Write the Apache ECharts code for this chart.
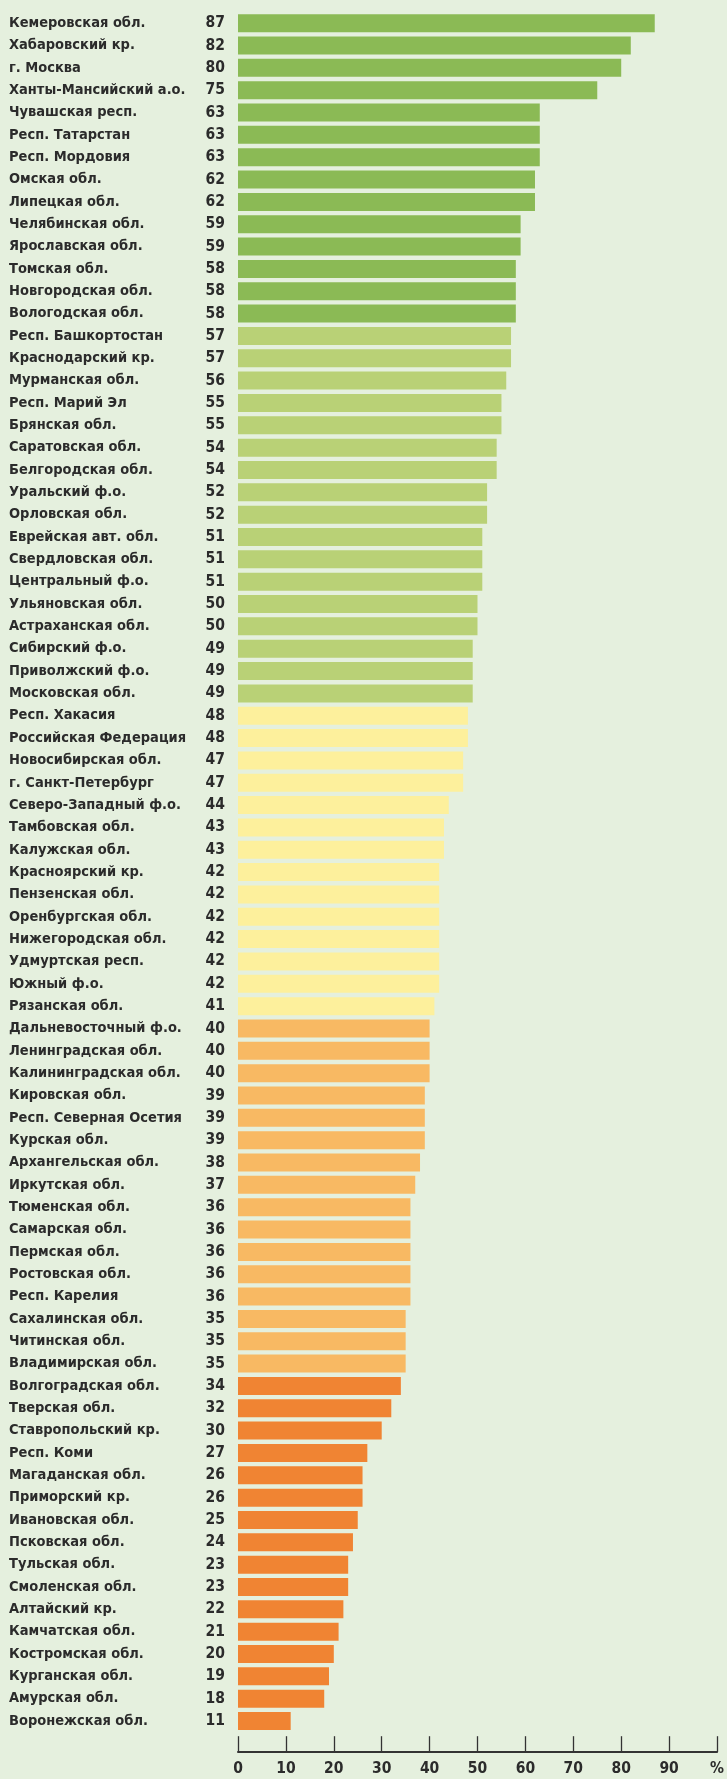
<!DOCTYPE html>
<html><head><meta charset="utf-8">
<script src="https://cdn.jsdelivr.net/npm/echarts@6/dist/echarts.min.js"></script>
<style>html,body{margin:0;padding:0;background:#e5f0de}#c{width:727px;height:1779px}</style>
</head><body><div id="c"></div>
<script>
const regions = ["Кемеровская обл.","Хабаровский кр.","г. Москва","Ханты-Мансийский а.о.","Чувашская респ.","Респ. Татарстан","Респ. Мордовия","Омская обл.","Липецкая обл.","Челябинская обл.","Ярославская обл.","Томская обл.","Новгородская обл.","Вологодская обл.","Респ. Башкортостан","Краснодарский кр.","Мурманская обл.","Респ. Марий Эл","Брянская обл.","Саратовская обл.","Белгородская обл.","Уральский ф.о.","Орловская обл.","Еврейская авт. обл.","Свердловская обл.","Центральный ф.о.","Ульяновская обл.","Астраханская обл.","Сибирский ф.о.","Приволжский ф.о.","Московская обл.","Респ. Хакасия","Российская Федерация","Новосибирская обл.","г. Санкт-Петербург","Северо-Западный ф.о.","Тамбовская обл.","Калужская обл.","Красноярский кр.","Пензенская обл.","Оренбургская обл.","Нижегородская обл.","Удмуртская респ.","Южный ф.о.","Рязанская обл.","Дальневосточный ф.о.","Ленинградская обл.","Калининградская обл.","Кировская обл.","Респ. Северная Осетия","Курская обл.","Архангельская обл.","Иркутская обл.","Тюменская обл.","Самарская обл.","Пермская обл.","Ростовская обл.","Респ. Карелия","Сахалинская обл.","Читинская обл.","Владимирская обл.","Волгоградская обл.","Тверская обл.","Ставропольский кр.","Респ. Коми","Магаданская обл.","Приморский кр.","Ивановская обл.","Псковская обл.","Тульская обл.","Смоленская обл.","Алтайский кр.","Камчатская обл.","Костромская обл.","Курганская обл.","Амурская обл.","Воронежская обл."];
const values = [87,82,80,75,63,63,63,62,62,59,59,58,58,58,57,57,56,55,55,54,54,52,52,51,51,51,50,50,49,49,49,48,48,47,47,44,43,43,42,42,42,42,42,42,41,40,40,40,39,39,39,38,37,36,36,36,36,36,35,35,35,34,32,30,27,26,26,25,24,23,23,22,21,20,19,18,11];
const tickValues = [0,10,20,30,40,50,60,70,80,90,100];
const tickLabels = ["0","10","20","30","40","50","60","70","80","90","%"];
const thresholds = [58,49,41,35];
const palette = ['#8bba55','#b9d176','#fdf09c','#f8b963','#f08433'];

function colorFor(v){
  for (let i=0;i<thresholds.length;i++) if (v>=thresholds[i]) return palette[i];
  return palette[palette.length-1];
}
const FONT = '"DejaVu Sans Condensed","Liberation Sans Narrow",sans-serif';
const TXT = '#2b2b2b';
const chart = echarts.init(document.getElementById('c'), null, {renderer:'canvas'});
chart.setOption({
  backgroundColor:'#e5f0de',
  animation:false,
  grid:{left:238,right:8.5,top:12,bottom:46.8,containLabel:false},
  xAxis:{type:'value',min:0,max:100,interval:10,position:'bottom',offset:20,
    axisLine:{show:true,lineStyle:{color:'#333',width:2}},
    axisTick:{show:true,inside:true,length:16,customValues:tickValues,lineStyle:{color:'#333',width:1.3}},
    splitLine:{show:false},
    axisLabel:{customValues:tickValues,margin:9,fontFamily:FONT,fontWeight:'bold',fontSize:15.5,color:TXT,
      formatter:function(v){const i=tickValues.indexOf(v);return i>=0?tickLabels[i]:'';}}
  },
  yAxis:{type:'category',inverse:true,data:regions,
    axisLine:{show:false},axisTick:{show:false},
    axisLabel:{align:'left',margin:229,fontFamily:FONT,fontWeight:'bold',fontSize:14.5,color:TXT}
  },
  series:[{type:'bar',barWidth:18,
    data:values.map(v=>({value:v,itemStyle:{color:colorFor(v)}})),
    label:{show:true,position:[-13,'50%'],align:'right',verticalAlign:'middle',
      fontFamily:FONT,fontWeight:'bold',fontSize:15.5,color:TXT,formatter:'{c}'}
  }]
});
</script></body></html>
